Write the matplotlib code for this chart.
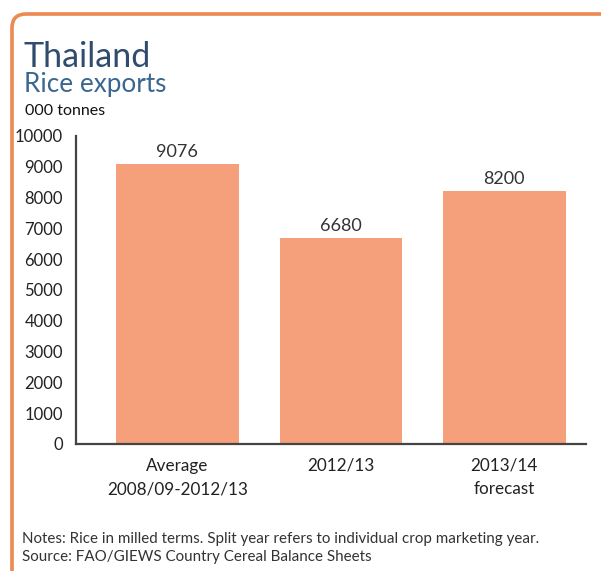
import matplotlib
matplotlib.use("Agg")
import matplotlib.pyplot as plt
from matplotlib.patches import FancyBboxPatch
from matplotlib.transforms import IdentityTransform

categories = ["Average\n2008/09-2012/13", "2012/13", "2013/14\nforecast"]
values = [9076, 6680, 8200]
value_labels = ["9076", "6680", "8200"]
yticks = [0, 1000, 2000, 3000, 4000, 5000, 6000, 7000, 8000, 9000, 10000]

FONT = ["Lato", "DejaVu Sans"]
plt.rcParams["font.family"] = FONT

W, H = 601, 571
fig = plt.figure(figsize=(W / 100, H / 100), dpi=100)
fig.patch.set_facecolor("white")

# orange frame (rounded top-left corner)
frame = FancyBboxPatch((12, -60), 700, H - 14 + 60,
                       boxstyle="round,pad=0,rounding_size=14",
                       transform=IdentityTransform(), fill=False,
                       edgecolor="#EC8A52", linewidth=2.6, zorder=0)
fig.patches.append(frame)

ax = fig.add_axes([76 / W, 1 - 444 / H, (586 - 76) / W, (444 - 136) / H])
x = list(range(len(categories)))
ax.bar(x, values, width=0.75, color="#F5A07A", zorder=2)
ax.set_xlim(-0.62, 2.5)
ax.set_ylim(0, 10000)
ax.set_yticks(yticks)
ax.set_yticklabels([str(t) for t in yticks], fontsize=12, color="#222222")
ax.set_xticks(x)
ax.set_xticklabels(categories, fontsize=12.3, color="#222222", linespacing=1.55)
ax.tick_params(axis="y", length=0, pad=9.5)
ax.tick_params(axis="x", length=0, pad=10)
for s in ["top", "right"]:
    ax.spines[s].set_visible(False)
for s in ["left", "bottom"]:
    ax.spines[s].set_color("#444444")
    ax.spines[s].set_linewidth(1.6)

for xi, v, lab in zip(x, values, value_labels):
    ax.annotate(lab, (xi, v), xytext=(0, 3), textcoords="offset points",
                ha="center", va="bottom", fontsize=13, color="#333333")

fig.text(24 / W, 1 - 67 / H, "Thailand", fontsize=24.5, color="#2F4B6E", ha="left", va="baseline")
fig.text(24 / W, 1 - 92 / H, "Rice exports", fontsize=18.8, color="#3A6790", ha="left", va="baseline")
fig.text(25 / W, 1 - 115 / H, "000 tonnes", fontsize=11.5, color="#111111", ha="left", va="baseline")

fig.text(22 / W, 1 - 543 / H, "Notes: Rice in milled terms. Split year refers to individual crop marketing year.",
         fontsize=10.9, color="#333333", ha="left", va="baseline")
fig.text(22 / W, 1 - 561 / H, "Source: FAO/GIEWS Country Cereal Balance Sheets",
         fontsize=10.9, color="#333333", ha="left", va="baseline")

fig.savefig("out.png", dpi=100)
